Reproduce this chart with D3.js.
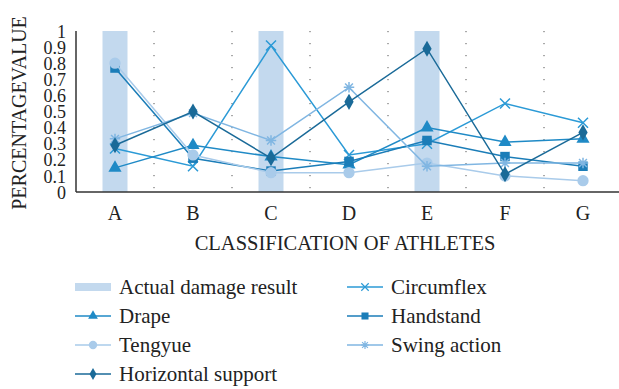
<!DOCTYPE html>
<html>
<head>
<meta charset="utf-8">
<script src="https://cdn.jsdelivr.net/npm/d3@7"></script>
<style>
  html, body { margin: 0; padding: 0; background: #fff; }
  svg { display: block; }
  svg text { font-family: "Liberation Serif", "Times New Roman", serif; fill: #222; }
</style>
</head>
<body>
<svg id="chart" width="619" height="389"></svg>
<script>
// Athlete classes on the x axis
const categories = ["A", "B", "C", "D", "E", "F", "G"];
// Actual damage result: full-height bands where damage occurred
const actualDamage = [1, 0, 1, 0, 1, 0, 0];
// Predicted percentage values per movement
const circumflex = [0.27, 0.16, 0.91, 0.23, 0.30, 0.55, 0.43];
const drape = [0.15, 0.29, 0.22, 0.17, 0.40, 0.31, 0.33];
const handstand = [0.77, 0.21, 0.13, 0.19, 0.32, 0.22, 0.16];
const tengyue = [0.80, 0.23, 0.12, 0.12, 0.18, 0.10, 0.07];
const swingAction = [0.33, 0.49, 0.32, 0.65, 0.16, 0.18, 0.18];
const horizontalSupport = [0.29, 0.50, 0.21, 0.56, 0.89, 0.11, 0.37];
const yTicks = [0, 0.1, 0.2, 0.3, 0.4, 0.5, 0.6, 0.7, 0.8, 0.9, 1];

const W = 619, H = 389;
const margin = { left: 76, top: 31, bottom: 192 };
const svg = d3.select("#chart");
const serif = "'Liberation Serif', 'Times New Roman', serif";

const x = d3.scaleBand().domain(categories).range([76, 622]).padding(0);
const y = d3.scaleLinear().domain([0, 1]).range([margin.bottom, margin.top]);
const cx = c => x(c) + x.bandwidth() / 2;

// custom stroke glyphs
const xGlyph = {
  draw(ctx, size) {
    const r = Math.sqrt(size) / 2;
    ctx.moveTo(-r, -r); ctx.lineTo(r, r);
    ctx.moveTo(-r, r); ctx.lineTo(r, -r);
  }
};
const asteriskGlyph = {
  draw(ctx, size) {
    const r = Math.sqrt(size) / 2;
    ctx.moveTo(0, -r); ctx.lineTo(0, r);
    ctx.moveTo(-r, 0); ctx.lineTo(r, 0);
    const d = r * 0.75;
    ctx.moveTo(-d, -d); ctx.lineTo(d, d);
    ctx.moveTo(-d, d); ctx.lineTo(d, -d);
  }
};

const series = [
  { name: "Circumflex", values: circumflex, color: "#2b9ad6", symbol: xGlyph, size: 100, stroke: true },
  { name: "Drape", values: drape, color: "#1f8ac6", symbol: d3.symbolTriangle, size: 75 },
  { name: "Handstand", values: handstand, color: "#1b7db8", symbol: d3.symbolSquare, size: 90 },
  { name: "Tengyue", values: tengyue, color: "#a9cbea", symbol: d3.symbolCircle, size: 100 },
  { name: "Swing action", values: swingAction, color: "#80b6e2", symbol: asteriskGlyph, size: 110, stroke: true },
  { name: "Horizontal support", values: horizontalSupport, color: "#1a6a98", symbol: d3.symbolDiamond, size: 75 }
];
const barColor = "#c3d9ee";

// Actual damage bands
const barW = 25;
svg.append("g").selectAll("rect")
  .data(categories.map((c, i) => ({ c, v: actualDamage[i] })).filter(d => d.v > 0))
  .join("rect")
  .attr("x", d => cx(d.c) - barW / 2)
  .attr("y", d => y(d.v))
  .attr("width", barW)
  .attr("height", d => y(0) - y(d.v))
  .attr("fill", barColor);

// Dotted separators between classes
svg.append("g").selectAll("line")
  .data(categories.slice(1))
  .join("line")
  .attr("x1", d => x(d)).attr("x2", d => x(d))
  .attr("y1", y(1)).attr("y2", y(0))
  .attr("stroke", "#555")
  .attr("stroke-width", 1)
  .attr("stroke-dasharray", "1.2,10.8");

// Axes
const yAxis = d3.axisLeft(y).tickValues(yTicks).tickSize(0).tickPadding(10)
  .tickFormat(d => d3.format("")(d));
const gy = svg.append("g").attr("transform", `translate(${margin.left},0)`).call(yAxis);
gy.attr("font-family", null).attr("font-size", null);
gy.select(".domain").remove();
gy.selectAll("text").style("font-family", serif).style("font-size", "18px").attr("dy", "0.34em");

const xAxis = d3.axisBottom(x).tickSize(0).tickPadding(14);
const gx = svg.append("g").attr("transform", `translate(0,${margin.bottom})`).call(xAxis);
gx.attr("font-family", null).attr("font-size", null);
gx.select(".domain").remove();
gx.selectAll("text").style("font-family", serif).style("font-size", "20px");

svg.append("line").attr("x1", margin.left).attr("x2", W).attr("y1", y(0)).attr("y2", y(0))
  .attr("stroke", "#333").attr("stroke-width", 1.5);
svg.append("line").attr("x1", margin.left).attr("x2", margin.left).attr("y1", y(1)).attr("y2", y(0))
  .attr("stroke", "#333").attr("stroke-width", 1.5);

// Axis titles
svg.append("text")
  .attr("transform", `translate(26,113) rotate(-90)`)
  .attr("text-anchor", "middle")
  .style("font-size", "20px")
  .text("PERCENTAGEVALUE");
svg.append("text")
  .attr("x", 345).attr("y", 250)
  .attr("text-anchor", "middle")
  .style("font-size", "20.5px")
  .text("CLASSIFICATION OF ATHLETES");

// Lines and markers
const line = d3.line().x((d, i) => cx(categories[i])).y(d => y(d));
const gs = svg.append("g").selectAll("g").data(series).join("g");
gs.append("path")
  .attr("d", s => line(s.values))
  .attr("fill", "none")
  .attr("stroke", s => s.color)
  .attr("stroke-width", 1.5);
gs.each(function (s) {
  d3.select(this).selectAll("path.m")
    .data(s.values)
    .join("path")
    .attr("class", "m")
    .attr("transform", (d, i) => `translate(${cx(categories[i])},${y(d)})`)
    .attr("d", d3.symbol(s.symbol, s.size))
    .attr("fill", s.stroke ? "none" : s.color)
    .attr("stroke", s.color)
    .attr("stroke-width", s.stroke ? 1.5 : 0);
});

// Legend
const legendItems = [
  { name: "Actual damage result", bar: true },
  series[0], series[1], series[2], series[3], series[4], series[5]
];
const colX = [75, 347], rowY0 = 287, rowStep = 29;
const lg = svg.append("g").selectAll("g").data(legendItems).join("g")
  .attr("transform", (d, i) => `translate(${colX[i % 2]},${rowY0 + Math.floor(i / 2) * rowStep})`);
lg.each(function (d) {
  const g = d3.select(this);
  if (d.bar) {
    g.append("rect").attr("x", 0).attr("y", -4).attr("width", 36).attr("height", 8).attr("fill", barColor);
  } else {
    g.append("line").attr("x1", 0).attr("x2", 36).attr("y1", 0).attr("y2", 0)
      .attr("stroke", d.color).attr("stroke-width", 1.5);
    g.append("path").attr("transform", "translate(18,0)")
      .attr("d", d3.symbol(d.symbol, d.size * 0.55))
      .attr("fill", d.stroke ? "none" : d.color)
      .attr("stroke", d.color)
      .attr("stroke-width", d.stroke ? 1.2 : 0);
  }
  g.append("text").attr("x", 44).attr("y", 0).attr("dy", "0.34em")
    .style("font-size", "21px").text(d.name);
});
</script>
</body>
</html>
